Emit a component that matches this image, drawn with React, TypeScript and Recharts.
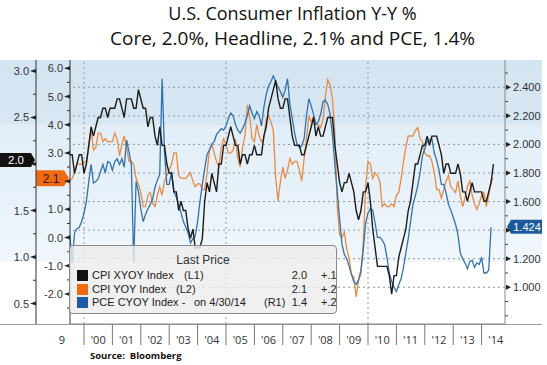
import { LineChart, Line, XAxis, YAxis, ReferenceLine } from "recharts";

// monthly series, first point = June 1999 (plotted at month end)
const START_YEAR = 1999;
const START_MONTH = 6;

// CPI XYOY Index (core CPI, % y/y) -> left outer axis L1
const CORE_CPI = [
  2.1, 2.1, 1.9, 2.0, 2.1, 2.1, 1.9,
  2.0, 2.2, 2.4, 2.3, 2.4, 2.5, 2.5, 2.6, 2.6, 2.5, 2.6, 2.6,
  2.6, 2.7, 2.7, 2.6, 2.5, 2.7, 2.7, 2.7, 2.6, 2.6, 2.8, 2.7,
  2.6, 2.6, 2.4, 2.5, 2.5, 2.3, 2.2, 2.4, 2.2, 2.2, 2.0, 1.9,
  1.9, 1.7, 1.7, 1.5, 1.6, 1.5, 1.5, 1.3, 1.2, 1.3, 1.1, 1.1,
  1.1, 1.2, 1.6, 1.8, 1.7, 1.9, 1.8, 1.7, 2.0, 2.0, 2.2, 2.2,
  2.3, 2.4, 2.3, 2.2, 2.2, 2.0, 2.1, 2.1, 2.0, 2.1, 2.1, 2.2,
  2.1, 2.1, 2.1, 2.3, 2.4, 2.6, 2.7, 2.8, 2.9, 2.7, 2.6, 2.6,
  2.7, 2.7, 2.5, 2.3, 2.2, 2.2, 2.2, 2.1, 2.1, 2.2, 2.3, 2.4,
  2.5, 2.3, 2.4, 2.3, 2.3, 2.4, 2.5, 2.5, 2.5, 2.2, 2.0, 1.8,
  1.7, 1.8, 1.8, 1.9, 1.8, 1.7, 1.5, 1.4, 1.5, 1.7, 1.7, 1.8,
  1.6, 1.3, 1.1, 0.9, 0.9, 0.9, 0.9, 0.9, 0.8, 0.6, 0.8, 0.8,
  1.0, 1.1, 1.2, 1.3, 1.5, 1.6, 1.8, 2.0, 2.0, 2.1, 2.2, 2.2,
  2.3, 2.2, 2.3, 2.3, 2.3, 2.2, 2.1, 1.9, 2.0, 2.0, 1.9, 1.9,
  1.9, 2.0, 1.9, 1.7, 1.7, 1.6, 1.7, 1.8, 1.7, 1.7, 1.7, 1.7,
  1.6, 1.6, 1.7, 1.8, 2.0,
];

// CPI YOY Index (headline CPI, % y/y) -> left inner axis L2
const HEADLINE_CPI = [
  2.0, 2.1, 2.3, 2.6, 2.6, 2.6, 2.7,
  2.7, 3.2, 3.8, 3.1, 3.2, 3.7, 3.7, 3.4, 3.5, 3.4, 3.4, 3.4,
  3.7, 3.5, 2.9, 3.3, 3.6, 3.2, 2.7, 2.7, 2.6, 2.1, 1.9, 1.6,
  1.1, 1.1, 1.5, 1.6, 1.2, 1.1, 1.5, 1.8, 1.5, 2.0, 2.2, 2.4,
  2.6, 3.0, 3.0, 2.2, 2.1, 2.1, 2.1, 2.2, 2.3, 2.0, 1.8, 1.9,
  1.9, 1.7, 1.7, 2.3, 3.1, 3.3, 3.0, 2.7, 2.5, 3.2, 3.5, 3.3,
  3.0, 3.0, 3.1, 3.5, 2.8, 2.5, 3.2, 3.6, 4.7, 4.3, 3.5, 3.4,
  4.0, 3.6, 3.4, 3.5, 4.2, 4.3, 4.1, 3.8, 2.1, 1.3, 2.0, 2.5,
  2.1, 2.4, 2.8, 2.6, 2.7, 2.7, 2.4, 2.0, 2.8, 3.5, 4.3, 4.1,
  4.3, 4.0, 4.0, 3.9, 4.2, 5.0, 5.6, 5.4, 4.9, 3.7, 1.1, 0.1,
  0.0, 0.2, -0.4, -0.7, -1.3, -1.4, -2.1, -1.5, -1.3, -0.2, 1.8, 2.7,
  2.6, 2.1, 2.3, 2.2, 2.0, 1.1, 1.2, 1.1, 1.1, 1.2, 1.1, 1.5,
  1.6, 2.1, 2.7, 3.2, 3.6, 3.6, 3.6, 3.8, 3.9, 3.5, 3.4, 3.0,
  2.9, 2.9, 2.7, 2.3, 1.7, 1.7, 1.4, 1.7, 2.0, 2.2, 1.8, 1.7,
  1.6, 2.0, 1.5, 1.1, 1.4, 1.8, 2.0, 1.5, 1.2, 1.0, 1.2, 1.5,
  1.6, 1.1, 1.5, 2.0, 2.1,
];

// PCE CYOY Index (core PCE, % y/y) -> right axis R1, ends 4/30/14
const CORE_PCE = [
  1.37, 1.17, 1.38, 1.41, 1.42, 1.46,
  1.52, 1.60, 1.74, 1.86, 1.73, 1.74, 1.76, 1.81, 1.86, 1.80, 1.88, 1.87,
  1.82, 1.88, 1.90, 1.86, 1.90, 1.84, 2.03, 1.95, 1.86, 1.17, 1.74, 1.67,
  1.55, 1.46, 1.51, 1.55, 1.58, 1.62, 1.70, 1.75, 1.79, 2.46, 1.95, 1.72,
  1.72, 1.81, 1.67, 1.63, 1.58, 1.52, 1.46, 1.42, 1.38, 1.31, 1.34, 1.36,
  1.46, 1.60, 1.72, 1.83, 1.93, 1.96, 2.00, 2.02, 2.07, 2.09, 2.11, 2.10,
  2.13, 2.18, 2.22, 2.20, 2.14, 2.10, 2.08, 2.11, 2.15, 2.20, 2.27, 2.22,
  2.18, 2.23, 2.20, 2.13, 2.26, 2.35, 2.41, 2.44, 2.48, 2.44, 2.40, 2.37,
  2.33, 2.38, 2.46, 2.28, 2.18, 2.08, 2.00, 1.98, 1.99, 2.04, 2.20, 2.32,
  2.27, 2.21, 2.14, 2.16, 2.21, 2.30, 2.31, 2.28, 2.21, 2.06, 1.86, 1.67,
  1.48, 1.30, 1.23, 1.20, 1.15, 1.09, 1.04, 1.02, 1.05, 1.12, 1.26, 1.45,
  1.52, 1.55, 1.54, 1.45, 1.35, 1.35, 1.33, 1.30, 1.21, 1.10, 1.04, 1.00,
  0.97, 1.02, 1.06, 1.14, 1.24, 1.34, 1.46, 1.58, 1.64, 1.71, 1.80, 1.92,
  1.97, 2.02, 2.03, 2.04, 1.94, 1.89, 1.82, 1.72, 1.72, 1.66, 1.58, 1.54,
  1.49, 1.44, 1.37, 1.24, 1.20, 1.17, 1.13, 1.18, 1.19, 1.14, 1.17, 1.16,
  1.21, 1.10, 1.10, 1.12, 1.42,
];

const LAST_CORE = 2.0;
const LAST_HEADLINE = 2.1;
const LAST_PCE = 1.424;

const YEARS = [2000, 2001, 2002, 2003, 2004, 2005, 2006, 2007, 2008, 2009, 2010, 2011, 2012, 2013, 2014];
const YEAR_LABELS = ["'00", "'01", "'02", "'03", "'04", "'05", "'06", "'07", "'08", "'09", "'10", "'11", "'12", "'13", "'14"];
const GRID_YEARS = [2000, 2005, 2010];

const L1_MAJOR = [0.5, 1, 1.5, 2, 2.5, 3];
const L1_MINOR = [0.75, 1.25, 1.75, 2.25, 2.75];
const L2_MAJOR = [-2, -1, 0, 1, 2, 3, 4, 5, 6];
const L2_MINOR = [-2.5, -1.5, -0.5, 0.5, 1.5, 2.5, 3.5, 4.5, 5.5];
const R1_MAJOR = [1, 1.2, 1.4, 1.6, 1.8, 2, 2.2, 2.4];
const R1_MINOR = [0.8, 0.9, 1.1, 1.3, 1.5, 1.7, 1.9, 2.1, 2.3, 2.5];

const COLORS = { core: "#1c1c1c", headline: "#ea8a43", pce: "#3472ae" };

const LEGEND_ROWS = [
  { key: "core", name: "CPI XYOY Index", note: "", axis: "(L1)", axisX: 114, last: LAST_CORE.toFixed(1), change: "+.1", swatch: "#111111" },
  { key: "headline", name: "CPI YOY Index", note: "", axis: "(L2)", axisX: 106, last: LAST_HEADLINE.toFixed(1), change: "+.2", swatch: "#f06a14" },
  { key: "pce", name: "PCE CYOY Index -", note: "on 4/30/14", axis: "(R1)", axisX: 194, last: LAST_PCE.toFixed(1), change: "+.2", swatch: "#1d5ca8" },
];

const rows = CORE_CPI.map((core, i) => ({
  t: START_YEAR + (START_MONTH + i) / 12,
  core,
  headline: HEADLINE_CPI[i],
  pce: CORE_PCE[i],
}));

const X_TICKS = YEARS.flatMap((y) => [y, y + 0.5]);
const AXIS_FONT = "'Liberation Sans', Arial, sans-serif";

function YearTick({ x, y, payload }: any) {
  const v = payload.value;
  if (Number.isInteger(v)) {
    return <line x1={x} x2={x} y1={y} y2={y + 21} stroke="#777" strokeWidth={1} />;
  }
  const label = YEAR_LABELS[YEARS.indexOf(Math.floor(v))];
  return (
    <text x={x} y={y + 20} textAnchor="middle" fontSize={11} fill="#333" fontFamily="'Open Sans', sans-serif">
      {label}
    </text>
  );
}

// major ticks get a small wedge and a label; the label under a last-price tag is left out
function LeftTick({ x, y, payload, majors, hidden }: any) {
  const v = payload.value;
  if (!majors.includes(v)) {
    return <line x1={x} x2={x - 3} y1={y} y2={y} stroke="#333" />;
  }
  return (
    <g>
      <polygon points={`${x},${y - 2} ${x},${y + 2} ${x - 6},${y}`} fill="#222" />
      {v !== hidden && (
        <text x={x - 7} y={y + 4} textAnchor="end" fontSize={11} fill="#333" fontFamily={AXIS_FONT}>
          {v.toFixed(1)}
        </text>
      )}
    </g>
  );
}

function RightTick({ x, y, payload }: any) {
  const v = payload.value;
  if (!R1_MAJOR.includes(v)) {
    return <line x1={x} x2={x + 3} y1={y} y2={y} stroke="#444" />;
  }
  return (
    <g>
      <polygon points={`${x + 1},${y - 2.5} ${x + 1},${y + 2.5} ${x + 6},${y}`} fill="#222" />
      {Math.abs(v - LAST_PCE) > 0.05 && (
        <text x={x + 8} y={y + 4} fontSize={11} fill="#333" fontFamily={AXIS_FONT}>
          {v.toFixed(3)}
        </text>
      )}
    </g>
  );
}

function CoreTag({ viewBox }: any) {
  const y = viewBox.y - 4;
  return (
    <g>
      <polygon points={`0,${y - 7} 31,${y - 7} 35,${y} 31,${y + 7} 0,${y + 7}`} fill="#111" />
      <text x={16} y={y + 4} textAnchor="middle" fontSize={11.5} fill="#fff" fontFamily={AXIS_FONT}>
        {LAST_CORE.toFixed(1)}
      </text>
    </g>
  );
}

function HeadlineTag({ viewBox }: any) {
  const y = viewBox.y;
  return (
    <g>
      <polygon points={`36,${y - 8} 64,${y - 8} 69,${y} 64,${y + 8} 36,${y + 8}`} fill="#f06a14" />
      <text x={51} y={y + 4.5} textAnchor="middle" fontSize={12} fill="#3a1200" fontFamily={AXIS_FONT}>
        {LAST_HEADLINE.toFixed(1)}
      </text>
    </g>
  );
}

function PceTag({ viewBox }: any) {
  const y = viewBox.y;
  return (
    <g>
      <polygon points={`507,${y} 511,${y - 7} 542,${y - 7} 542,${y + 7} 511,${y + 7}`} fill="#1d5a9c" />
      <text x={527} y={y + 4} textAnchor="middle" fontSize={11} fill="#fff" fontFamily={AXIS_FONT}>
        {LAST_PCE.toFixed(3)}
      </text>
    </g>
  );
}

export default function App() {
  return (
    <div style={{ position: "absolute", left: 0, top: 0, width: 547, height: 365, background: "#fff", overflow: "hidden" }}>
      <div
        style={{
          position: "absolute", left: 0, top: 60, width: 542, height: 264,
          background: "linear-gradient(to bottom, #d4e5f2 0%, #d7e7f3 24%, #e2eef8 25%, #e9f2fa 55%, #f1f7fc 76%, #ffffff 77%, #ffffff 100%)",
          borderBottom: "1px solid #9a9a9a",
        }}
      />
      <svg width={547} height={365} style={{ position: "absolute", left: 0, top: 0 }}>
        <text x={292.5} y={19.5} textAnchor="middle" fontSize={18} fill="#111" fontFamily="'Open Sans', sans-serif">
          U.S. Consumer Inflation Y-Y %
        </text>
        <text x={292.5} y={45} textAnchor="middle" fontSize={19} fill="#111" fontFamily="'Open Sans', sans-serif">
          Core, 2.0%, Headline, 2.1% and PCE, 1.4%
        </text>
        <text x={90} y={359} fontSize={9.5} fontWeight="bold" fill="#111" fontFamily="'Open Sans', sans-serif" style={{ whiteSpace: "pre" }}>
          Source:  Bloomberg
        </text>
        <text x={65} y={344} textAnchor="end" fontSize={11} fill="#333" fontFamily="'Open Sans', sans-serif">9</text>
      </svg>
      <div style={{ position: "absolute", left: 0, top: 0 }}>
        <LineChart width={547} height={365} data={rows} margin={{ top: 60, right: 0, bottom: 11, left: 0 }}>
          <XAxis
            dataKey="t" type="number" domain={[1999.507, 2014.824]} allowDataOverflow
            ticks={X_TICKS} interval={0} height={30} tickSize={0} tickMargin={0}
            axisLine={{ stroke: "#888" }} tick={YearTick}
          />
          {/* L2 (headline) sits next to the plot, L1 (core) outside it */}
          <YAxis
            yAxisId="inner" orientation="left" width={34} type="number" domain={[-3.063, 6.294]} allowDataOverflow
            ticks={[...L2_MAJOR, ...L2_MINOR]} interval={0} tickSize={0} tickMargin={0}
            axisLine={{ stroke: "#333" }} tick={(p: any) => <LeftTick {...p} majors={L2_MAJOR} hidden={2} />}
          />
          <YAxis
            yAxisId="outer" orientation="left" width={36} type="number" domain={[0.28, 3.118]} allowDataOverflow
            ticks={[...L1_MAJOR, ...L1_MINOR]} interval={0} tickSize={0} tickMargin={0}
            axisLine={{ stroke: "#333" }} tick={(p: any) => <LeftTick {...p} majors={L1_MAJOR} hidden={LAST_CORE} />}
          />
          <YAxis
            yAxisId="right" orientation="right" width={42} type="number" domain={[0.743, 2.591]} allowDataOverflow
            ticks={[...R1_MAJOR, ...R1_MINOR]} interval={0} tickSize={0} tickMargin={0}
            axisLine={{ stroke: "#888" }} tick={RightTick}
          />
          {R1_MAJOR.map((v) => (
            <ReferenceLine key={`gy${v}`} yAxisId="right" y={v} stroke="#8e9aa6" strokeDasharray="2 3" />
          ))}
          {GRID_YEARS.map((v) => (
            <ReferenceLine key={`gx${v}`} yAxisId="right" x={v} stroke="#8e9aa6" strokeDasharray="2 3" />
          ))}
          <Line yAxisId="inner" dataKey="headline" stroke={COLORS.headline} strokeWidth={1.3} dot={false} isAnimationActive={false} />
          <Line yAxisId="right" dataKey="pce" stroke={COLORS.pce} strokeWidth={1.3} dot={false} isAnimationActive={false} />
          <Line yAxisId="outer" dataKey="core" stroke={COLORS.core} strokeWidth={1.4} dot={false} isAnimationActive={false} />
          <ReferenceLine yAxisId="outer" y={LAST_CORE} stroke="none" label={(p: any) => <CoreTag {...p} />} />
          <ReferenceLine yAxisId="inner" y={LAST_HEADLINE} stroke="none" label={(p: any) => <HeadlineTag {...p} />} />
          <ReferenceLine yAxisId="right" y={LAST_PCE} stroke="none" label={(p: any) => <PceTag {...p} />} />
        </LineChart>
      </div>
      <div
        style={{
          position: "absolute", left: 69, top: 245, width: 268, height: 69, boxSizing: "border-box",
          border: "1px solid #8a8a8a", borderRadius: 4, background: "rgba(236,236,236,0.8)",
          fontFamily: AXIS_FONT, color: "#222", whiteSpace: "pre",
        }}
      >
        <div style={{ position: "absolute", left: 0, top: 7, width: "100%", textAlign: "center", fontSize: 12, color: "#333", lineHeight: "14px" }}>
          Last Price
        </div>
        {LEGEND_ROWS.map((r, i) => (
          <div key={r.key} style={{ position: "absolute", left: 0, top: 23 + i * 13.7, width: "100%", height: 13, fontSize: 11, lineHeight: "13px" }}>
            <span style={{ position: "absolute", left: 7, top: 1, width: 11, height: 11, background: r.swatch }} />
            <span style={{ position: "absolute", left: 22 }}>{r.name}</span>
            {r.note && <span style={{ position: "absolute", left: 124 }}>{r.note}</span>}
            <span style={{ position: "absolute", left: r.axisX }}>{r.axis}</span>
            <span style={{ position: "absolute", right: 29, textAlign: "right" }}>{r.last}</span>
            <span style={{ position: "absolute", left: 251 }}>{r.change}</span>
          </div>
        ))}
      </div>
    </div>
  );
}
